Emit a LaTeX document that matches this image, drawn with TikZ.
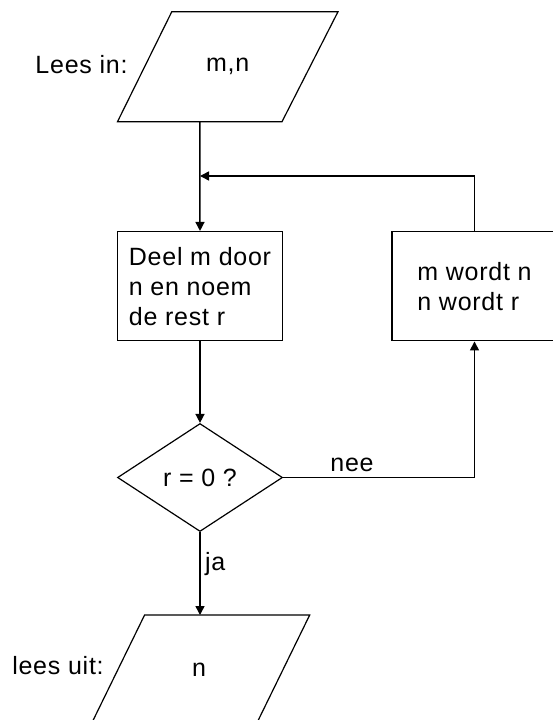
\documentclass[tikz,border=0pt]{standalone}
\usepackage{fontspec}
\setmainfont[LetterSpace=3]{Liberation Sans}
\usetikzlibrary{positioning, arrows.meta, shapes.geometric}

\begin{document}
\begin{tikzpicture}[x=1pt, y=-1pt,
    every node/.style = {font=\fontsize{25}{30}\selectfont},
    iolijn/.style = {draw, line width=1.2pt, line join=miter},
    proc/.style = {rectangle, draw, line width=1.5pt, align=left,
      minimum width=165pt, minimum height=109pt},
    keuze/.style = {diamond, draw, line width=1.2pt, inner sep=0pt,
      minimum width=165pt, minimum height=108pt},
    pijl/.style = {line width=1.5pt, -{Triangle[length=9pt,width=9pt]}},
  ]
\useasboundingbox (0,0) rectangle (553,720);
\clip (0,0) rectangle (553,720);

% invoer
\coordinate (lees-lb) at (117.5,121.7);
\coordinate (lees-rb) at (282,121.7);
\coordinate (lees-ro) at (338,11.7);
\coordinate (lees-lo) at (171.8,11.7);
\draw[iolijn] (lees-lb) -- (lees-rb) -- (lees-ro) -- (lees-lo) -- cycle;
\node (lees) at (227.7,66.7) {m,n};
\node (leesin) at (81.5,65) {Lees in:};
\coordinate (leesbot) at (199.8,121.7);

\node[proc] (deel) at (200,286.2) {Deel m door\\n en noem\\de rest r};
\node[proc] (wordt) at (474.5,286.2) {m wordt n\\n wordt r};

\node[keuze] (test) at (200,477.5) {r = 0 ?};

% uitvoer
\coordinate (uit-lo) at (144.6,615);
\coordinate (uit-ro) at (309.7,615);
\coordinate (uit-rb) at (255.9,725);
\coordinate (uit-lb) at (90.8,725);
\draw[iolijn] (uit-lo) -- (uit-ro) -- (uit-rb) -- (uit-lb) -- cycle;
\node (uit) at (199,670) {n};
\node (leesuit) at (58,666) {lees uit:};

\coordinate (join) at (deel.north |- 0,176);

\draw[pijl] (leesbot) -- (deel.north);
\draw[pijl] (wordt.north) |- (join);
\draw[pijl] (deel.south) -- (test.north);
\draw[pijl] (test.east) -| node[pos=0.18, above=2pt] (nee) {nee} (wordt.south);
\draw[pijl] (test.south) -- node[pos=0.38, right=1pt] (ja) {ja} (test.south |- uit-lo);
\end{tikzpicture}
\end{document}
